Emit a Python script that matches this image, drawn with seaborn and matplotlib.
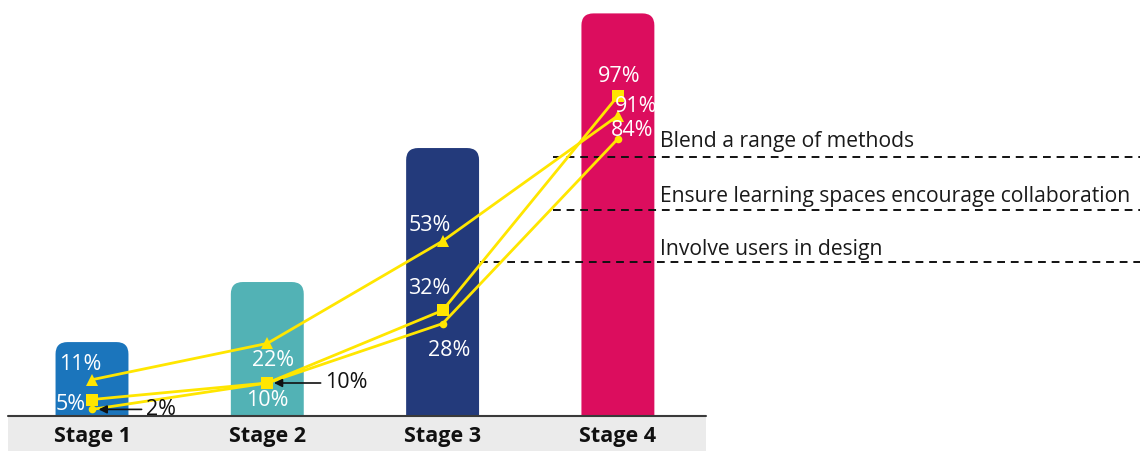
import matplotlib
matplotlib.use("Agg")
import matplotlib.pyplot as plt
from matplotlib.patches import FancyBboxPatch, Rectangle
import seaborn as sns
import pandas as pd

# ---- data -------------------------------------------------------------
stages = ["Stage 1", "Stage 2", "Stage 3", "Stage 4"]
stage_bar_heights = [22.4, 40.6, 81.2, 122]          # maturity level of each stage
blend_methods = [11, 22, 53, 91]                      # Blend a range of methods
spaces_collab = [5, 10, 32, 97]                       # Ensure learning spaces encourage collaboration
involve_users = [2, 10, 28, 84]                       # Involve users in design
series_names = ["Blend a range of methods",
                "Ensure learning spaces encourage collaboration",
                "Involve users in design"]

# ---- style ------------------------------------------------------------
sns.set_theme(style="white")
plt.rcParams["font.family"] = ["Open Sans", "DejaVu Sans"]

bar_colors = ["#1b75bc", "#52b2b5", "#233a7b", "#dc0d5e"]
yellow = "#ffe600"
W, H = 1143, 451
px_x = 175.3          # pixels per stage step
px_y = 3.3            # pixels per percentage point
x0_px = 92            # pixel column of the first stage
left_px, right_px, base_px = 8, 1140, 416
FS = 15.5

fig = plt.figure(figsize=(W / 100, H / 100), dpi=100)
ax = fig.add_axes([left_px / W, (H - base_px) / H, (right_px - left_px) / W, base_px / H])
xmin = -(x0_px - left_px) / px_x
xmax = (right_px - x0_px) / px_x

# ---- bars with rounded tops -------------------------------------------
bars_df = pd.DataFrame({"stage": stages, "height": stage_bar_heights})
sns.barplot(data=bars_df, x="stage", y="height", hue="stage", palette=bar_colors,
            width=0.416, legend=False, ax=ax, saturation=1)
ax.set_xlim(xmin, xmax)
ax.set_ylim(0, base_px / px_y)

radius_x = 12 / px_x
aspect = (12 / px_y) / radius_x
for patch in list(ax.patches):
    x, w, h = patch.get_x(), patch.get_width(), patch.get_height()
    fc = patch.get_facecolor()
    patch.remove()
    ax.add_patch(FancyBboxPatch((x, -10), w, h + 10,
                                boxstyle=f"round,pad=0,rounding_size={radius_x}",
                                mutation_aspect=aspect, facecolor=fc,
                                edgecolor="none", zorder=1))

# ---- key labels with dashed guide lines --------------------------------
key_rows = [  # (start x px, line y px, text baseline px)
    (553, 157, 147),
    (553, 210, 202),
    (480, 262, 255),
]
for name, (sx, ly, ty) in zip(series_names, key_rows):
    ax.plot([(sx - x0_px) / px_x, xmax], [(base_px - ly) / px_y] * 2,
            color="#111111", lw=1.4, dashes=(4, 3), zorder=2, clip_on=False)
    ax.text((660 - x0_px) / px_x, (base_px - ty) / px_y, name, fontsize=15.2,
            color="#1a1a1a", va="baseline", ha="left", zorder=3)

# ---- yellow trend lines -----------------------------------------------
lines_df = pd.DataFrame({
    "pos": list(range(4)) * 3,
    "value": blend_methods + spaces_collab + involve_users,
    "series": sum([[n] * 4 for n in series_names], []),
})
markers = {series_names[0]: "^", series_names[1]: "s", series_names[2]: "o"}
sizes = {series_names[0]: 8, series_names[1]: 8, series_names[2]: 5.5}
for name in series_names:
    sub = lines_df[lines_df.series == name]
    sns.lineplot(data=sub, x="pos", y="value", color=yellow, lw=2,
                 marker=markers[name], markersize=sizes[name],
                 markeredgewidth=0, ax=ax, zorder=4, legend=False)
ax.set_xlim(xmin, xmax)
ax.set_ylim(0, base_px / px_y)

# ---- value labels -------------------------------------------------------
# offsets (pixels) of each label from its point; None = black with arrow
label_offsets = {
    series_names[0]: [(-12, 15), (6, -17), (-13, 16), (18, 9)],
    series_names[1]: [(-21, -5), (0, -17), (-13, 22), (1, 19)],
    series_names[2]: [None, None, (7, -27), (14, 8)],
}
arrow_text = {series_names[2]: {0: (64, 0), 1: (74, 0)}}
for name, vals in zip(series_names, [blend_methods, spaces_collab, involve_users]):
    for i, v in enumerate(vals):
        off = label_offsets[name][i]
        if off is not None:
            ax.annotate(f"{v}%", (i, v), xytext=off, textcoords="offset pixels",
                        ha="center", va="center", color="white", fontsize=FS, zorder=5)
        else:
            dx, dy = arrow_text[name][i]
            ax.annotate(f"{v}%", (i + 0.03, v), xytext=(dx, dy),
                        textcoords="offset pixels", ha="center", va="center",
                        color="#111111", fontsize=FS, zorder=5,
                        arrowprops=dict(arrowstyle="-|>", color="#111111", lw=1.2,
                                        shrinkA=1, shrinkB=1, mutation_scale=12))

# ---- baseline band and stage labels -------------------------------------
band_right = (706 - x0_px) / px_x
ax.add_patch(Rectangle((xmin, -(H - base_px) / px_y), band_right - xmin,
                       (H - base_px) / px_y, facecolor="#ebebeb", edgecolor="none",
                       clip_on=False, zorder=0))
ax.plot([xmin, band_right], [0, 0], color="#3a3a3a", lw=1.5, clip_on=False, zorder=6)

ax.set_xticks(range(len(stages)))
ax.set_xticklabels(stages, fontsize=FS, fontweight="bold", color="#111111")
ax.tick_params(axis="x", length=0, pad=7)
ax.set_yticks([])
ax.set_xlabel("")
ax.set_ylabel("")
for s in ax.spines.values():
    s.set_visible(False)

fig.savefig("out.png", dpi=100)
